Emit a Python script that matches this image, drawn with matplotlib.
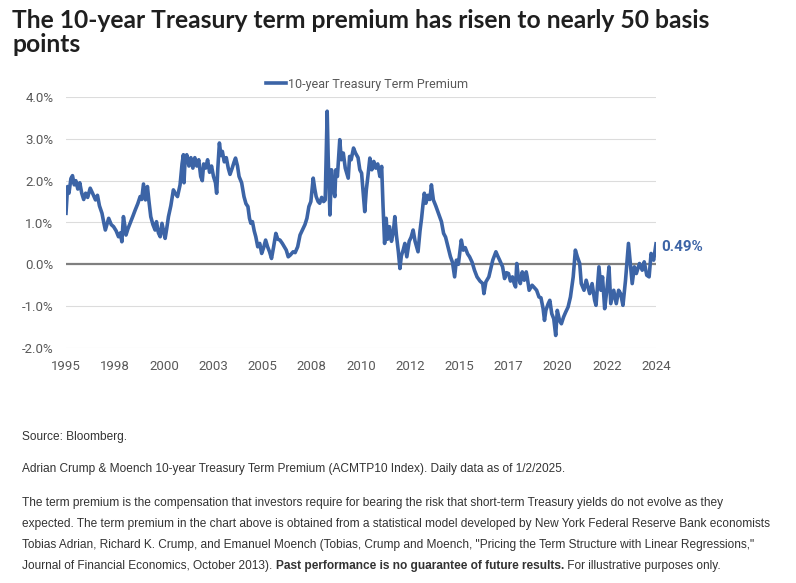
import matplotlib
matplotlib.use("Agg")
import matplotlib.pyplot as plt
import numpy as np

# ACM 10-year term premium (%)
years = [
    1995.00, 1995.08, 1995.15, 1995.25, 1995.33, 1995.42, 1995.50, 1995.60, 1995.70, 1995.80,
    1995.90, 1996.00, 1996.10, 1996.23, 1996.35, 1996.50, 1996.60, 1996.70, 1996.83, 1996.92,
    1997.00, 1997.08, 1997.17, 1997.30, 1997.42, 1997.55, 1997.67, 1997.76, 1997.84, 1997.92,
    1998.00, 1998.05, 1998.15, 1998.26, 1998.40, 1998.52, 1998.65, 1998.77, 1998.85, 1998.94,
    1999.04, 1999.14, 1999.22, 1999.31, 1999.42, 1999.53, 1999.60, 1999.70, 1999.79, 1999.88,
    2000.04, 2000.12, 2000.21, 2000.33, 2000.46, 2000.55, 2000.67, 2000.80, 2000.90, 2000.97,
    2001.00, 2001.05, 2001.14, 2001.25, 2001.35, 2001.45, 2001.55, 2001.65, 2001.75, 2001.85,
    2001.93, 2002.00, 2002.10, 2002.20, 2002.30, 2002.40, 2002.50, 2002.60, 2002.66, 2002.72,
    2002.80, 2002.88, 2002.95, 2003.05, 2003.15, 2003.25, 2003.34, 2003.45, 2003.55, 2003.62,
    2003.72, 2003.80, 2003.93, 2004.05, 2004.15, 2004.25, 2004.33, 2004.40, 2004.48, 2004.57,
    2004.65, 2004.75, 2004.85, 2004.95, 2005.05, 2005.15, 2005.25, 2005.35, 2005.45, 2005.55,
    2005.67, 2005.77, 2005.88, 2006.00, 2006.10, 2006.20, 2006.30, 2006.40, 2006.55, 2006.65,
    2006.78, 2006.90, 2007.05, 2007.15, 2007.25, 2007.35, 2007.45, 2007.57, 2007.65, 2007.72,
    2007.82, 2007.90, 2008.00, 2008.10, 2008.18, 2008.28, 2008.33, 2008.42, 2008.50, 2008.55,
    2008.67, 2008.72, 2008.80, 2008.92, 2009.00, 2009.10, 2009.20, 2009.35, 2009.42, 2009.50,
    2009.62, 2009.72, 2009.85, 2009.94, 2010.03, 2010.10, 2010.19, 2010.27, 2010.35, 2010.45,
    2010.55, 2010.65, 2010.75, 2010.85, 2010.96, 2011.05, 2011.12, 2011.20, 2011.28, 2011.35,
    2011.45, 2011.55, 2011.65, 2011.72, 2011.80, 2011.90, 2011.98, 2012.05, 2012.15, 2012.23,
    2012.33, 2012.45, 2012.55, 2012.65, 2012.75, 2012.90, 2013.00, 2013.08, 2013.15, 2013.22,
    2013.30, 2013.40, 2013.50, 2013.58, 2013.68, 2013.80, 2013.95, 2014.09, 2014.20, 2014.30,
    2014.42, 2014.55, 2014.65, 2014.76, 2014.85, 2014.95, 2015.10, 2015.20, 2015.30, 2015.42,
    2015.52, 2015.65, 2015.77, 2015.90, 2016.05, 2016.19, 2016.25, 2016.35, 2016.50, 2016.60,
    2016.70, 2016.86, 2016.95, 2017.05, 2017.20, 2017.30, 2017.40, 2017.50, 2017.60, 2017.70,
    2017.79, 2017.86, 2017.92, 2018.00, 2018.10, 2018.20, 2018.30, 2018.40, 2018.45, 2018.55,
    2018.70, 2018.80, 2018.93, 2019.05, 2019.15, 2019.26, 2019.33, 2019.40, 2019.52, 2019.60,
    2019.70, 2019.80, 2019.90, 2019.98, 2020.10, 2020.19, 2020.30, 2020.40, 2020.53, 2020.65,
    2020.79, 2020.90, 2021.00, 2021.12, 2021.20, 2021.34, 2021.45, 2021.63, 2021.75, 2021.88,
    2021.95, 2022.10, 2022.20, 2022.28, 2022.39, 2022.50, 2022.61, 2022.70, 2022.85, 2022.98,
    2023.10, 2023.20, 2023.32, 2023.45, 2023.60, 2023.68, 2023.79, 2023.90, 2024.00, 2024.16,
    2024.30, 2024.40, 2024.53, 2024.65, 2024.75, 2024.88, 2025.00,
]
premium = [
    1.22, 1.86, 1.70, 2.05, 2.12, 1.90, 2.00, 1.80, 1.95, 1.70,
    1.55, 1.70, 1.60, 1.82, 1.70, 1.54, 1.65, 1.40, 1.22, 1.00,
    0.82, 0.95, 1.10, 0.95, 0.90, 0.80, 0.66, 0.75, 0.54, 1.14,
    0.90, 0.70, 0.85, 0.98, 1.15, 1.30, 1.45, 1.62, 1.55, 1.92,
    1.54, 1.86, 1.50, 1.14, 0.95, 0.82, 1.02, 0.75, 0.66, 0.98,
    0.62, 0.85, 1.14, 1.40, 1.78, 1.70, 1.62, 1.90, 2.40, 2.62,
    1.95, 2.45, 2.62, 2.35, 2.55, 2.30, 2.55, 2.35, 2.50, 2.10,
    2.00, 2.40, 2.30, 2.50, 2.20, 2.35, 2.10, 1.95, 1.70, 2.30,
    2.90, 2.60, 2.70, 2.45, 2.55, 2.30, 2.15, 2.30, 2.45, 2.54,
    2.35, 2.10, 1.95, 1.62, 1.45, 1.38, 1.10, 0.98, 1.02, 0.80,
    0.66, 0.42, 0.50, 0.26, 0.40, 0.58, 0.42, 0.30, 0.14, 0.40,
    0.74, 0.60, 0.58, 0.50, 0.42, 0.34, 0.18, 0.22, 0.30, 0.28,
    0.42, 0.70, 0.85, 0.95, 1.10, 1.38, 1.50, 2.06, 1.80, 1.62,
    1.50, 1.46, 1.60, 1.50, 1.54, 3.66, 2.58, 1.18, 2.26, 1.90,
    1.62, 2.26, 2.10, 2.98, 2.50, 2.66, 2.30, 2.06, 2.58, 2.50,
    2.78, 2.66, 2.55, 2.26, 2.18, 1.78, 1.26, 1.78, 2.10, 2.54,
    2.26, 2.46, 2.30, 2.40, 2.10, 2.34, 1.40, 0.50, 1.10, 0.60,
    0.90, 0.55, 0.80, 1.14, 0.70, 0.30, -0.10, 0.20, 0.35, 0.50,
    0.18, 0.55, 0.65, 0.82, 0.55, 0.30, 0.80, 1.10, 1.42, 1.70,
    1.46, 1.65, 1.55, 1.90, 1.54, 1.40, 1.20, 1.02, 0.74, 0.65,
    0.42, 0.18, 0.05, -0.30, 0.10, 0.00, 0.58, 0.34, 0.40, 0.25,
    0.18, 0.05, -0.14, -0.30, -0.40, -0.46, -0.70, -0.42, -0.30, -0.10,
    0.10, 0.30, 0.20, 0.10, -0.06, -0.34, -0.20, -0.22, -0.40, -0.30,
    -0.46, -0.54, 0.02, -0.30, -0.46, -0.18, -0.38, -0.18, -0.30, -0.62,
    -0.50, -0.55, -0.62, -0.78, -0.80, -1.06, -1.34, -1.10, -0.94, -0.86,
    -1.18, -1.30, -1.70, -1.10, -1.35, -1.42, -1.26, -1.15, -1.02, -0.78,
    -0.30, 0.34, 0.18, 0.02, -0.46, -0.62, -0.38, -0.70, -0.46, -0.86,
    -0.98, -0.06, -0.62, -0.30, -1.06, -0.62, -0.06, -0.94, -0.62, -0.94,
    -0.62, -0.70, -0.98, -0.38, 0.50, 0.10, -0.46, -0.06, -0.22, 0.02,
    -0.14, 0.06, -0.26, -0.30, 0.26, 0.10, 0.49,
]

tick_pos = np.linspace(1995, 2025, 13)
tick_labels = ["1995", "1998", "2000", "2003", "2005", "2008", "2010",
               "2012", "2015", "2017", "2020", "2022", "2024"]
y_ticks = [-2, -1, 0, 1, 2, 3, 4]

title_lines = ["The 10-year Treasury term premium has risen to nearly 50 basis", "points"]
foot_lines = [
    "The term premium is the compensation that investors require for bearing the risk that short-term Treasury yields do not evolve as they",
    "expected. The term premium in the chart above is obtained from a statistical model developed by New York Federal Reserve Bank economists",
    "Tobias Adrian, Richard K. Crump, and Emanuel Moench (Tobias, Crump and Moench, \"Pricing the Term Structure with Linear Regressions,\"",
]
last_runs = [("Journal of Financial Economics, October 2013). ", "normal"),
             ("Past performance is no guarantee of future results.", "bold"),
             (" For illustrative purposes only.", "normal")]

blue = "#3c64a6"
grey_txt = "#595959"
W, H = 796, 583

fig = plt.figure(figsize=(W / 100, H / 100), dpi=100)
renderer = fig.canvas.get_renderer()


def fit_size(text, target_px, **kw):
    # font size that makes the text span target_px
    t = fig.text(0, 0, text, fontsize=10, **kw)
    w = t.get_window_extent(renderer).width
    t.remove()
    return 10 * target_px / w


ax = fig.add_axes([66 / W, 1 - 348 / H, 590 / W, 251 / H])

for yv in y_ticks:
    if yv == 0:
        continue
    ax.axhline(yv, color="#dcdcdc", lw=0.8, zorder=1)
ax.axhline(0, color="#7f7f7f", lw=1.6, zorder=2)

ax.plot(years, premium, color=blue, lw=2.6, zorder=3,
        label="10-year Treasury Term Premium", solid_joinstyle="round")

ax.set_xlim(1995, 2025)
ax.set_ylim(-2, 4)
ax.set_xticks(tick_pos)
ax.set_xticklabels(tick_labels)
ax.set_yticks(y_ticks)
ax.set_yticklabels([f"{v:.1f}%" for v in y_ticks])
ax.tick_params(length=0, labelsize=9.5, colors=grey_txt)
ax.tick_params(axis="y", pad=9)
ax.tick_params(axis="x", pad=9)
for lab in ax.get_xticklabels() + ax.get_yticklabels():
    lab.set_family("Roboto")
for s in ax.spines.values():
    s.set_visible(False)

ax.annotate(f"{premium[-1]:.2f}%", (years[-1], premium[-1]), xytext=(4, -2.5),
            textcoords="offset points", va="center", ha="left",
            color=blue, fontsize=11, fontweight="bold", family="Roboto")

leg = ax.legend(loc="lower center", bbox_to_anchor=(0.51, 1.0), frameon=False,
                prop={"family": "Roboto", "size": 9}, handlelength=1.6,
                handletextpad=0.2, borderaxespad=0.1)
for t in leg.get_texts():
    t.set_color(grey_txt)

tkw = dict(fontweight="bold", family="Lato")
tsize = fit_size(title_lines[0], 700, **tkw)
fig.text(12 / W, 1 - 20 / H, title_lines[0], fontsize=tsize, color="#1f1f1f",
         va="center", **tkw)
fig.text(12 / W, 1 - 45 / H, title_lines[1], fontsize=tsize, color="#1f1f1f",
         va="center", **tkw)

fam = "Liberation Sans"
fsize = fit_size(foot_lines[1], 752, family=fam)
foot = dict(fontsize=fsize, color="#333333", va="center", family=fam)
x0 = 22
fig.text(x0 / W, 1 - 437 / H, "Source: Bloomberg.", **foot)
fig.text(x0 / W, 1 - 469 / H,
         "Adrian Crump & Moench 10-year Treasury Term Premium (ACMTP10 Index). Daily data as of 1/2/2025.",
         **foot)
for i, line in enumerate(foot_lines):
    fig.text(x0 / W, 1 - (503 + 21 * i) / H, line, **foot)

# last line mixes regular and bold runs
xpix = x0
for txt, w in last_runs:
    t = fig.text(xpix / W, 1 - 566 / H, txt, fontweight=w, **foot)
    xpix += t.get_window_extent(renderer).width

fig.savefig("out.png", dpi=100)
